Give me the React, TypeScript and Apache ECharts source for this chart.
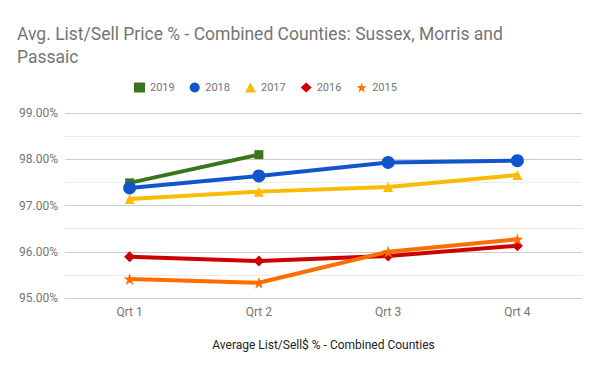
import React, { useEffect, useRef } from "react";
import * as echarts from "echarts";

const categories = ["Qrt 1", "Qrt 2", "Qrt 3", "Qrt 4"];
const s2019 = [97.49, 98.1, null, null];
const s2018 = [97.38, 97.64, 97.93, 97.97];
const s2017 = [97.14, 97.3, 97.4, 97.66];
const s2016 = [95.89, 95.8, 95.91, 96.13];
const s2015 = [95.41, 95.33, 96.0, 96.27];
const seriesNames = ["2019", "2018", "2017", "2016", "2015"];

const STAR = "path://M50,0 L61.8,35.4 L100,35.4 L69.1,57.3 L80.9,95.1 L50,72.4 L19.1,95.1 L30.9,57.3 L0,35.4 L38.2,35.4 Z";

export default function App() {
  const ref = useRef<HTMLDivElement>(null);
  useEffect(() => {
    if (!ref.current) return;
    const chart = echarts.init(ref.current, null, { renderer: "svg" });
    const font = "Roboto, sans-serif";
    const mk = (name: string, data: any[], color: string, symbol: string, size: number) => ({
      name,
      type: "line",
      data,
      symbol,
      symbolSize: size,
      showSymbol: true,
      connectNulls: false,
      lineStyle: { width: 4, color },
      itemStyle: { color },
      emphasis: { disabled: true },
    });
    chart.setOption({
      animation: false,
      backgroundColor: "#ffffff",
      title: {
        text: "Avg. List/Sell Price % - Combined Counties: Sussex, Morris and Passaic",
        left: 12,
        top: 17,
        textStyle: {
          fontFamily: font,
          fontSize: 17.5,
          fontWeight: "normal",
          color: "#757575",
          width: 500,
          overflow: "break",
          lineHeight: 23.5,
        },
      },
      legend: {
        top: 77,
        left: 129,
        itemWidth: 11,
        itemHeight: 10,
        itemGap: 15,
        textStyle: { fontFamily: font, fontSize: 11, color: "#757575" },
        data: [
          { name: "2019", icon: "rect" },
          { name: "2018", icon: "circle" },
          { name: "2017", icon: "triangle" },
          { name: "2016", icon: "diamond" },
          { name: "2015", icon: STAR },
        ],
      },
      grid: { left: 65, right: 18, top: 113, bottom: 73, containLabel: false },
      xAxis: {
        type: "category",
        data: categories,
        boundaryGap: true,
        axisLine: { show: false },
        axisTick: { show: false },
        axisLabel: { fontFamily: font, fontSize: 12, color: "#757575", margin: 8 },
        name: "Average List/Sell$ % - Combined Counties",
        nameLocation: "middle",
        nameGap: 41,
        nameTextStyle: { fontFamily: font, fontSize: 12, color: "#222222" },
      },
      yAxis: {
        type: "value",
        min: 95,
        max: 99,
        interval: 1,
        axisLine: { show: false },
        axisTick: { show: false },
        axisLabel: {
          fontFamily: font,
          fontSize: 12,
          color: "#757575",
          margin: 7,
          formatter: (v: number) => v.toFixed(2) + "%",
        },
        splitLine: { lineStyle: { color: "#cccccc", width: 1 } },
        minorTick: { show: false, splitNumber: 2 },
        minorSplitLine: { show: true, lineStyle: { color: "#ebebeb", width: 1 } },
      },
      series: [
        mk(seriesNames[0], s2019, "#38761d", "rect", 9),
        mk(seriesNames[1], s2018, "#1155cc", "circle", 13),
        mk(seriesNames[2], s2017, "#f9bb05", "triangle", 10),
        mk(seriesNames[3], s2016, "#cc0000", "diamond", 11),
        mk(seriesNames[4], s2015, "#ff6d01", STAR, 12),
      ],
    });
    return () => chart.dispose();
  }, []);
  return <div ref={ref} style={{ width: 600, height: 371, position: "absolute", left: 0, top: 0 }} />;
}
